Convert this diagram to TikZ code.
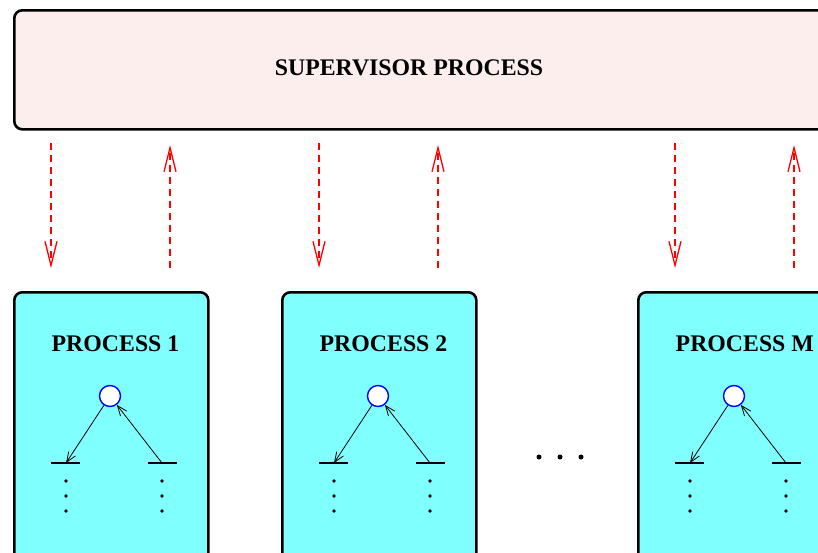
\documentclass[tikz,border=0pt]{standalone}
\usepackage{fontspec}
\setmainfont{Liberation Serif}
\usetikzlibrary{arrows.meta}
\definecolor{supfill}{RGB}{253,238,238}
\definecolor{procfill}{RGB}{128,255,255}
\begin{document}
\begin{tikzpicture}[x=1pt,y=-1pt,
  box/.style={draw=black, line width=2.6pt, rounded corners=8pt, anchor=north west, inner sep=0pt},
  lbl/.style={font=\fontsize{23.8}{26}\selectfont\bfseries, inner sep=0pt},
  msg/.style={draw=red, line width=1.3pt, dash pattern=on 7pt off 5pt,
     -{Straight Barb[length=24pt,width=12pt,line width=1.3pt]}},
  link/.style={draw=black, line width=0.8pt, -{Straight Barb[length=10pt,width=8pt,line width=0.8pt]}},
  node/.style={circle, draw=blue, fill=white, line width=1.4pt, minimum size=21pt, inner sep=0pt},
  bar/.style={draw=black, line width=1.3pt},
  dot/.style={circle, fill=black, inner sep=0pt, minimum size=3.8pt},
  bigdot/.style={circle, fill=black, inner sep=0pt, minimum size=5pt}]
\useasboundingbox (0,0) rectangle (818,552);
\clip (0,0) rectangle (818,552);
% supervisor
\node[box, fill=supfill, minimum width=830pt, minimum height=119pt] (sup) at (13,9) {};
\node[lbl] (suplbl) at (409,68) {SUPERVISOR PROCESS};
% processes
\foreach \i/\dx/\name in {1/0/1, 2/268/2, 3/624/M} {
  \node[box, fill=procfill, minimum width=194pt, minimum height=280pt] (p\i) at (13+\dx,291) {};
  \node[lbl, anchor=west] (pl\i) at (51.5+\dx,344) {PROCESS \name};
  \node[node] (c\i) at (110+\dx,396) {};
  \coordinate (bl\i) at (66+\dx,463);
  \coordinate (br\i) at (162+\dx,463);
  \draw[bar] (51+\dx,463) -- (80+\dx,463);
  \draw[bar] (148+\dx,463) -- (177+\dx,463);
  \draw[link] (c\i) -- (bl\i);
  \draw[link] (br\i) -- (c\i);
  \foreach \y in {481,496,511} {
    \node[dot] at (66+\dx,\y) {};
    \node[dot] at (162+\dx,\y) {};
  }
  % messages
  \coordinate (ds\i) at (51+\dx,143);
  \coordinate (de\i) at (51+\dx,268);
  \coordinate (us\i) at (170+\dx,268);
  \coordinate (ue\i) at (170+\dx,145);
  \draw[msg] (ds\i) -- (de\i);
  \draw[msg] (us\i) -- (ue\i);
}
% ellipsis
\node[bigdot] (e1) at (539,457) {};
\node[bigdot] (e2) at (560,457) {};
\node[bigdot] (e3) at (581,457) {};
\end{tikzpicture}
\end{document}
